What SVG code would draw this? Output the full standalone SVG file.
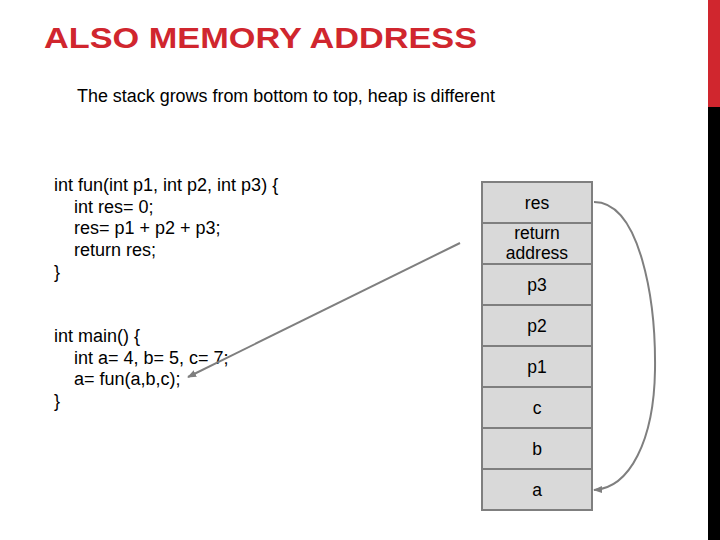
<svg xmlns="http://www.w3.org/2000/svg" width="720" height="540" viewBox="0 0 720 540">
<defs>
<style>
.t{font-family:"Liberation Sans",Arial,sans-serif;font-size:18px;fill:#000}
.s{font-size:17.5px}
.c{text-anchor:middle}
.cell{fill:#d9d9d9;stroke:#7f7f7f;stroke-width:2}
.con{fill:none;stroke:#7f7f7f;stroke-width:2}
</style>
<marker id="ah2" viewBox="0 0 10 10" refX="9" refY="5" markerWidth="9" markerHeight="9" orient="auto" markerUnits="userSpaceOnUse">
<path d="M0,1 L10,5 L0,9 z" fill="#7f7f7f"/>
</marker>
</defs>
<rect width="720" height="540" fill="#fff"/>
<rect x="708" y="0" width="12" height="107" fill="#d0262e"/>
<rect x="708" y="107" width="12" height="433" fill="#000"/>
<text x="44" y="48" font-family="'Liberation Sans',Arial,sans-serif" font-weight="bold" font-size="29" fill="#d0262e" textLength="433" lengthAdjust="spacingAndGlyphs">ALSO MEMORY ADDRESS</text>
<text class="t" x="77" y="102" textLength="418" lengthAdjust="spacingAndGlyphs">The stack grows from bottom to top, heap is different</text>
<g id="code-fun">
<text class="t" x="54" y="191">int fun(int p1, int p2, int p3) {</text>
<text class="t" x="74" y="213">int res= 0;</text>
<text class="t" x="74" y="234">res= p1 + p2 + p3;</text>
<text class="t" x="74" y="256">return res;</text>
<text class="t" x="54" y="278">}</text>
</g>
<g id="code-main">
<text class="t" x="54" y="342">int main() {</text>
<text class="t" x="74" y="364">int a= 4, b= 5, c= 7;</text>
<text class="t" x="74" y="385">a= fun(a,b,c);</text>
<text class="t" x="54" y="407">}</text>
</g>
<g id="stack">
<g id="cell-res"><rect class="cell" x="482" y="182" width="110" height="41"/><text class="t s c" x="537" y="209">res</text></g>
<g id="cell-ret"><rect class="cell" x="482" y="223" width="110" height="41"/><text class="t s c" x="537" y="239">return</text><text class="t s c" x="537" y="259">address</text></g>
<g id="cell-p3"><rect class="cell" x="482" y="264" width="110" height="41"/><text class="t s c" x="537" y="291">p3</text></g>
<g id="cell-p2"><rect class="cell" x="482" y="305" width="110" height="41"/><text class="t s c" x="537" y="332">p2</text></g>
<g id="cell-p1"><rect class="cell" x="482" y="346" width="110" height="41"/><text class="t s c" x="537" y="373">p1</text></g>
<g id="cell-c"><rect class="cell" x="482" y="387" width="110" height="41"/><text class="t s c" x="537" y="414">c</text></g>
<g id="cell-b"><rect class="cell" x="482" y="428" width="110" height="41"/><text class="t s c" x="537" y="455">b</text></g>
<g id="cell-a"><rect class="cell" x="482" y="469" width="110" height="41"/><text class="t s c" x="537" y="496">a</text></g>
</g>
<g id="connectors">
<path class="con" d="M594,202 C640,202 656,300 655,370 C654,440 630,488 594,490" marker-end="url(#ah2)" stroke-width="1.5"/>
<line class="con" x1="460" y1="243" x2="188" y2="377" marker-end="url(#ah2)"/>
</g>
</svg>
